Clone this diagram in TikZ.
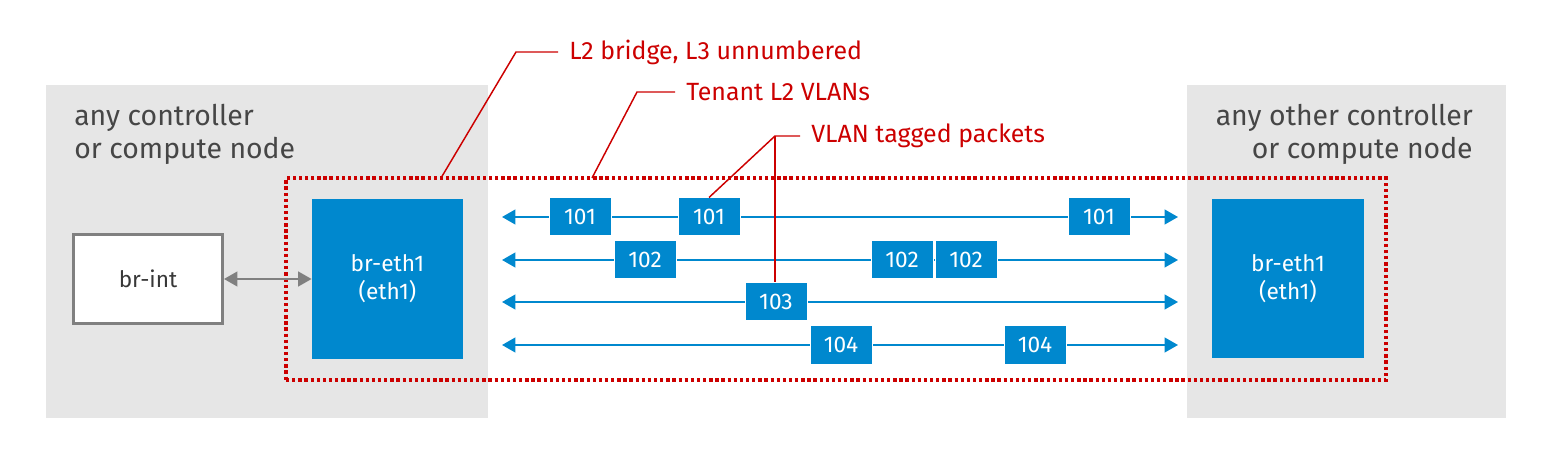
\documentclass[tikz,border=0pt]{standalone}
\usepackage{fontspec}
\setmainfont{Fira Sans}
\usepackage{xcolor}
\usetikzlibrary{arrows.meta}

\definecolor{rhBlue}{RGB}{0,136,206}
\definecolor{rhRed}{RGB}{204,0,0}
\definecolor{panelGray}{RGB}{230,230,230}
\definecolor{textGray}{RGB}{70,70,70}
\definecolor{lineGray}{RGB}{128,128,128}

\begin{document}
\begin{tikzpicture}[x=0.75pt,y=0.75pt,yscale=-1,xscale=1,
        panel/.style={fill=panelGray, inner sep=0pt, minimum height=249.75pt},
        paneltext/.style={text=textGray, inner sep=0pt, font=\fontsize{21.3}{24.75}\selectfont},
        bridge/.style={fill=rhBlue, text=white, align=center, inner sep=0pt, minimum width=113.5pt, minimum height=119.25pt, font=\fontsize{17}{21}\selectfont},
        packet/.style={fill=rhBlue, draw=white, line width=0.75pt, text=white, inner sep=0pt, minimum width=46.5pt, minimum height=28.5pt, font=\fontsize{17}{18}\selectfont},
        vlan/.style={rhBlue, line width=1.5pt, {Triangle[length=10pt,width=11pt]}-{Triangle[length=10pt,width=11pt]}},
        calltext/.style={text=rhRed, anchor=west, inner xsep=8.25pt, inner ysep=0pt, font=\fontsize{18.7}{20}\selectfont},
        callout/.style={rhRed, line width=1.1pt}]
        \useasboundingbox (0,0) rectangle (1548,466);

        %Shape: Panels
        \node[panel, minimum width=331.5pt] (leftpanel) at (267,251.5) {};
        \node[panel, minimum width=239.25pt] (rightpanel) at (1346.5,251.5) {};
        % Text Node
        \node[paneltext, anchor=north west, align=left] (lefttext) at (74,104) {any controller\\or compute node};
        % Text Node
        \node[paneltext, anchor=north east, align=right] (righttext) at (1473,104) {any other controller\\or compute node};

        %Shape: Dotted frame
        \node[draw=rhRed, line width=2.6pt, dash pattern=on 2.5pt off 2.1pt, inner sep=0pt, minimum width=825pt, minimum height=151.5pt] (frame) at (836,279) {};

        %Shape: Bridges
        \node[draw=lineGray, fill=white, line width=2.25pt, inner sep=0pt, minimum width=111.75pt, minimum height=66.75pt, font=\fontsize{17}{21}\selectfont, text=textGray!80!black] (brint) at (148,279) {br-int};
        \node[bridge] (brethl) at (387.5,279) {br-eth1\\(eth1)};
        \node[bridge] (brethr) at (1288,278.5) {br-eth1\\(eth1)};
        \draw[lineGray, line width=1.5pt, {Triangle[length=10pt,width=11pt]}-{Triangle[length=10pt,width=11pt]}] (brint.east) -- (brethl.west);

        %Shape: VLAN rows
        \foreach \row/\y in {1/217,2/260,3/302,4/345} {
          \coordinate (vl\row) at (502,\y);
          \coordinate (vr\row) at (1178,\y);
          \draw[vlan] (vl\row) -- (vr\row);
        }

        % Packets
        \node[packet] (pa) at (580,217) {101};
        \node[packet] (pb) at (709,217) {101};
        \node[packet] (pc) at (1099,217) {101};
        \node[packet] (pd) at (645,260) {102};
        \node[packet] (pe) at (902,260) {102};
        \node[packet] (pf) at (966,260) {102};
        \node[packet] (pg) at (776,302) {103};
        \node[packet] (ph) at (841,345) {104};
        \node[packet] (pi) at (1035,345) {104};

        % Text Node
        \node[calltext] (lbla) at (558,52) {L2 bridge, L3 unnumbered};
        % Text Node
        \node[calltext] (lblb) at (675,92) {Tenant L2 VLANs};
        % Text Node
        \node[calltext] (lblc) at (800,136) {VLAN tagged packets};

        %Shape: Callouts
        \coordinate (ka) at (516,52);
        \coordinate (ca) at (441,178);
        \coordinate (kb) at (637,92);
        \coordinate (cb) at (592,178);
        \coordinate (kc) at (775,136);
        \draw[callout] (lbla.west) -- (ka) -- (ca);
        \draw[callout] (lblb.west) -- (kb) -- (cb);
        \draw[callout] (lblc.west) -- (kc) -- (pb.north);
        \draw[callout] (kc) -- (kc |- pg.north);

\end{tikzpicture}
\end{document}
